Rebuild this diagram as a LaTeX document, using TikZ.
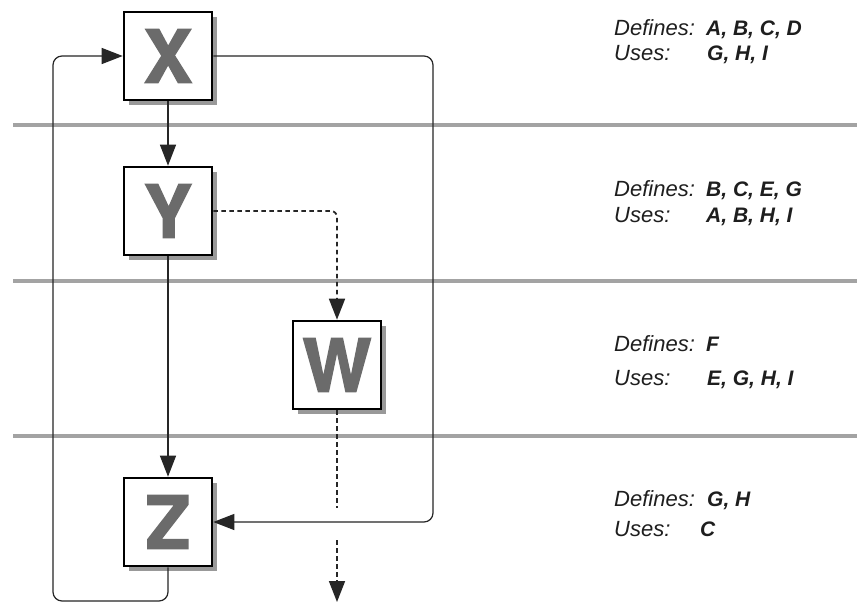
\documentclass[tikz,border=0pt]{standalone}
\usepackage{fontspec}
\usetikzlibrary{arrows.meta,shadows}
\newfontfamily\boxfont{TeX Gyre Heros}[BoldFeatures={FakeBold=2}]
\newfontfamily\lblfont{Liberation Sans}
\definecolor{lettergray}{HTML}{6B6B6B}
\definecolor{sepgray}{HTML}{A3A3A3}
\definecolor{txt}{HTML}{1E1E1E}
\tikzset{
  blk/.style={draw=black, line width=2.6pt, fill=white, minimum size=88pt, inner sep=0pt,
    drop shadow={shadow xshift=5pt, shadow yshift=-5pt, fill=black!50, opacity=0.8},
    font=\boxfont\bfseries\fontsize{73}{73}\selectfont, text=lettergray},
  conn/.style={line width=1.2pt, draw=black!85, -{Triangle[length=21pt,width=16pt]}},
  plain/.style={line width=1.2pt, draw=black!85},
  dconn/.style={conn, line width=1.7pt, dash pattern=on 4.5pt off 3.5pt},
  dplain/.style={plain, line width=1.7pt, dash pattern=on 4.5pt off 3.5pt},
  sep/.style={line width=4.5pt, draw=sepgray},
  lbl/.style={anchor=base west, inner sep=0pt, font=\lblfont\itshape\fontsize{22}{22}\selectfont, text=txt},
  val/.style={anchor=base west, inner sep=0pt, font=\lblfont\itshape\bfseries\fontsize{21}{21}\selectfont, text=txt}
}
\begin{document}
\begin{tikzpicture}[x=1pt,y=-1pt]
\useasboundingbox[fill=white] (0,0) rectangle (857,605);
% separators
\draw[sep] (13,125) -- (857,125);
\draw[sep] (13,281) -- (857,281);
\draw[sep] (13,436) -- (857,436);
% boxes
\node[blk] (X) at (168,56) {\raisebox{-3pt}{X}};
\node[blk] (Y) at (168,211) {\raisebox{-3pt}{Y}};
\node[blk] (W) at (337,365) {\raisebox{-3pt}{W}};
\node[blk] (Z) at (168,522) {\raisebox{-3pt}{Z}};
% coordinates
\coordinate (zb) at (168,601);
\coordinate (lb) at (53,601);
\coordinate (lt) at (53,56);
\coordinate (rt) at (433,56);
\coordinate (rb) at (433,522);
\coordinate (yd) at (337,211);
\coordinate (wg1) at (337,508);
\coordinate (wg2) at (337,540);
\coordinate (wend) at (337,602);
% connectors
\draw[conn] (X) -- (Y);
\draw[conn] (Y) -- (Z);
\draw[conn, rounded corners=9pt] (Z.south) -- (zb) -- (lb) -- (lt) -- (X.west);
\draw[conn, rounded corners=9pt] (X.east) -- (rt) -- (rb) -- (Z.east);
\draw[dconn, rounded corners=6pt] (Y.east) -- (yd) -- (W.north);
\draw[dplain] (W.south) -- (wg1);
\draw[dconn] (wg2) -- (wend);
% labels
\node[lbl] (d1) at (614,35) {Defines:};
\node[val] (d1v) at (706,35) {A, B, C, D};
\node[lbl] (u1) at (614,60) {Uses:};
\node[val] (u1v) at (707,60) {G, H, I};
\node[lbl] (d2) at (614,196) {Defines:};
\node[val] (d2v) at (706,196) {B, C, E, G};
\node[lbl] (u2) at (614,222) {Uses:};
\node[val] (u2v) at (706,222) {A, B, H, I};
\node[lbl] (d3) at (614,351) {Defines:};
\node[val] (d3v) at (706,351) {F};
\node[lbl] (u3) at (614,385) {Uses:};
\node[val] (u3v) at (707,385) {E, G, H, I};
\node[lbl] (d4) at (614,506) {Defines:};
\node[val] (d4v) at (707,506) {G, H};
\node[lbl] (u4) at (614,536) {Uses:};
\node[val] (u4v) at (700,536) {C};
\end{tikzpicture}
\end{document}
